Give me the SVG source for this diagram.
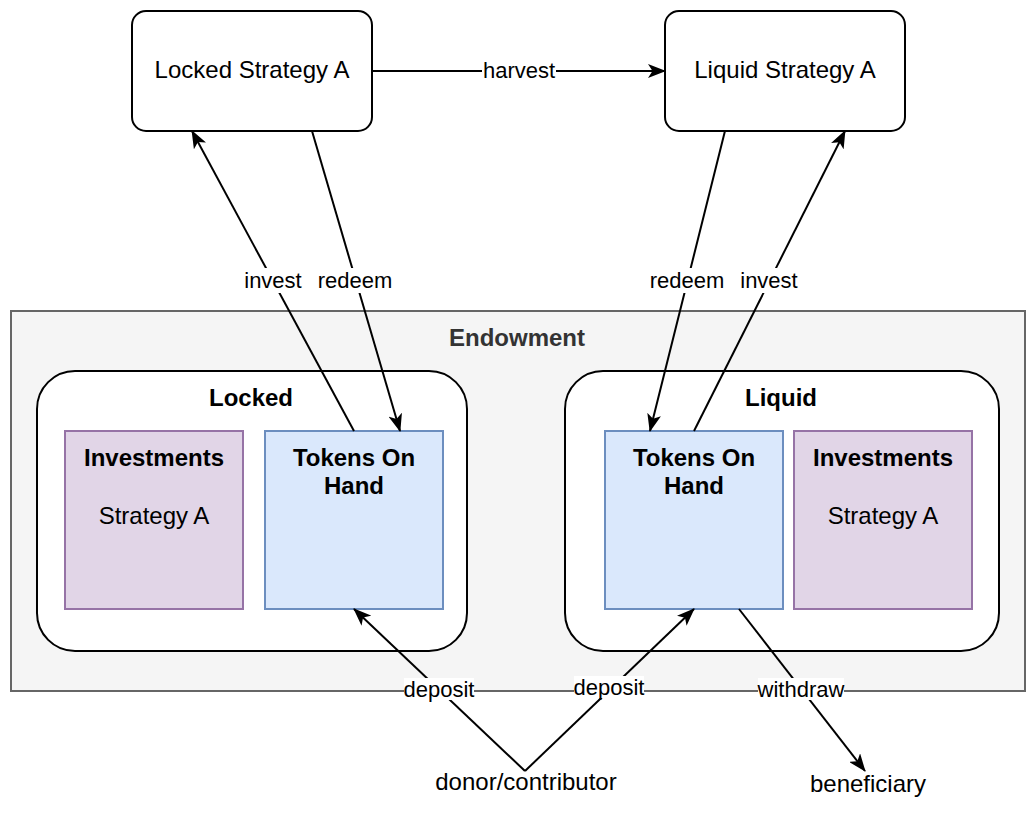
<svg xmlns="http://www.w3.org/2000/svg" width="1036" height="828" viewBox="0 0 1036 828">
<defs>
<style>
text{font-family:"Liberation Sans",Arial,sans-serif;fill:#000;text-anchor:middle}
.node{font-size:24px}
.b{font-weight:bold}
.lbl{font-size:22px}
.box{fill:#fff;stroke:#000;stroke-width:2}
.inv{fill:#e1d5e7;stroke:#9673a6;stroke-width:2}
.tok{fill:#dae8fc;stroke:#6c8ebf;stroke-width:2}
.edge{fill:none;stroke:#000;stroke-width:2;marker-end:url(#arr)}
.lbg{fill:#fff}
</style>
<marker id="arr" viewBox="0 0 18 14" refX="17" refY="7" markerWidth="18" markerHeight="14" markerUnits="userSpaceOnUse" orient="auto">
<path d="M0,0 L18,7 L0,14 L4.5,7 Z" fill="#000"/>
</marker>
</defs>
<rect width="1036" height="828" fill="#fff"/>
<g id="endowment">
<rect x="11" y="311" width="1014" height="380" fill="#f5f5f5" stroke="#666" stroke-width="2"/>
<text class="node b" x="517" y="346" style="fill:#333">Endowment</text>
</g>
<g id="locked">
<rect class="box" x="37" y="371" width="430" height="280" rx="38"/>
<text class="node b" x="251" y="406">Locked</text>
</g>
<g id="liquid">
<rect class="box" x="565" y="371" width="434" height="280" rx="38"/>
<text class="node b" x="781" y="406">Liquid</text>
</g>
<g id="locked-investments">
<rect class="inv" x="65" y="431" width="178" height="178"/>
<text class="node b" x="154" y="466">Investments</text>
<text class="node" x="154" y="524">Strategy A</text>
</g>
<g id="locked-tokens">
<rect class="tok" x="265" y="431" width="178" height="178"/>
<text class="node b" x="354" y="466">Tokens On</text>
<text class="node b" x="354" y="494">Hand</text>
</g>
<g id="liquid-tokens">
<rect class="tok" x="605" y="431" width="178" height="178"/>
<text class="node b" x="694" y="466">Tokens On</text>
<text class="node b" x="694" y="494">Hand</text>
</g>
<g id="liquid-investments">
<rect class="inv" x="794" y="431" width="178" height="178"/>
<text class="node b" x="883" y="466">Investments</text>
<text class="node" x="883" y="524">Strategy A</text>
</g>
<g id="locked-strategy">
<rect class="box" x="132" y="11" width="240" height="120" rx="14"/>
<text class="node" x="252" y="78">Locked Strategy A</text>
</g>
<g id="liquid-strategy">
<rect class="box" x="665" y="11" width="240" height="120" rx="14"/>
<text class="node" x="785" y="78">Liquid Strategy A</text>
</g>
<g id="donor">
<text class="node" x="526" y="790">donor/contributor</text>
</g>
<g id="beneficiary">
<text class="node" x="868" y="792">beneficiary</text>
</g>
<g id="connectors">
<line class="edge" x1="372" y1="71" x2="665" y2="71"/>
<line class="edge" x1="354" y1="431" x2="192" y2="131"/>
<line class="edge" x1="312" y1="131" x2="400" y2="431"/>
<line class="edge" x1="725" y1="131" x2="650" y2="431"/>
<line class="edge" x1="694" y1="431" x2="845" y2="131"/>
<line class="edge" x1="525" y1="771" x2="354" y2="609"/>
<line class="edge" x1="525" y1="771" x2="694" y2="609"/>
<line class="edge" x1="739" y1="609" x2="865" y2="771"/>
<g id="labels">
<rect class="lbg" x="482" y="59" width="74" height="24"/>
<text class="lbl" x="519" y="78">harvest</text>
<rect class="lbg" x="243" y="268" width="60" height="25"/>
<text class="lbl" x="273" y="288">invest</text>
<rect class="lbg" x="317" y="268" width="76" height="25"/>
<text class="lbl" x="355" y="288">redeem</text>
<rect class="lbg" x="649" y="268" width="76" height="25"/>
<text class="lbl" x="687" y="288">redeem</text>
<rect class="lbg" x="739" y="268" width="60" height="25"/>
<text class="lbl" x="769" y="288">invest</text>
<rect class="lbg" x="404" y="678" width="70" height="22"/>
<text class="lbl" x="439" y="697">deposit</text>
<rect class="lbg" x="574" y="676" width="70" height="22"/>
<text class="lbl" x="609" y="695">deposit</text>
<rect class="lbg" x="758" y="678" width="86" height="22"/>
<text class="lbl" x="801" y="697">withdraw</text>
</g>
</g>
</svg>
